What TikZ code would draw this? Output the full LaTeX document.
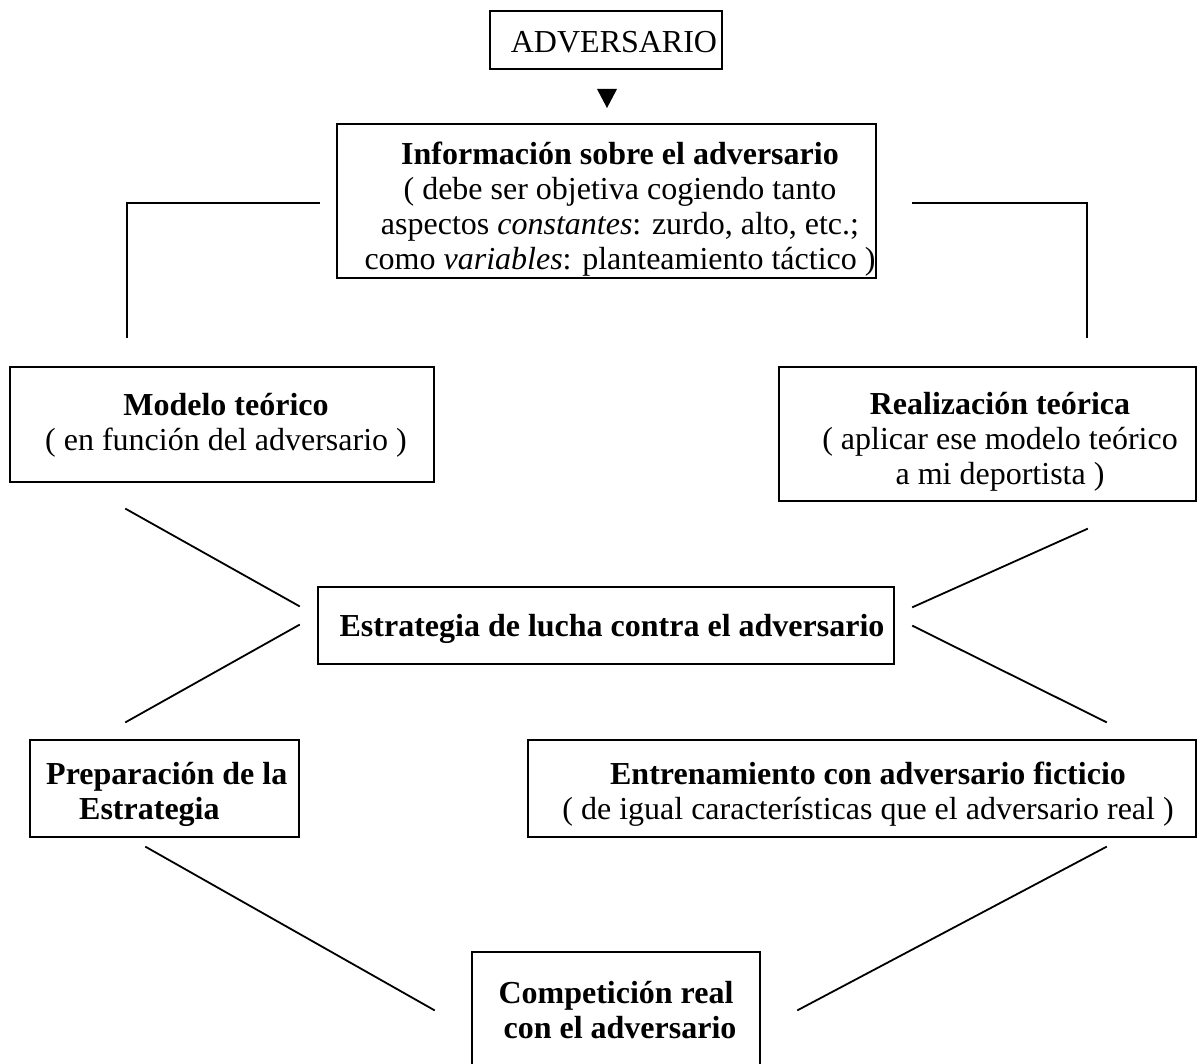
\documentclass[tikz,border=0pt]{standalone}
\usepackage{fontspec}
\setmainfont{Liberation Serif}
\begin{document}
\begin{tikzpicture}[x=1pt,y=-1pt,
  box/.style={draw, line width=1.8pt, inner sep=0pt},
  txt/.style={anchor=base, align=center, inner sep=0pt, font=\fontsize{32}{35}\selectfont},
  conn/.style={line width=1.8pt, line cap=rect}]
\clip (0,0) rectangle (1198,1064);
\fill[white] (0,0) rectangle (1198,1064);

% boxes
\node[box, minimum width=232pt, minimum height=58pt]  (adv)    at (606,40) {};
\node[box, minimum width=539pt, minimum height=154pt] (info)   at (606.5,201) {};
\node[box, minimum width=424pt, minimum height=115pt] (modelo) at (222,424.5) {};
\node[box, minimum width=417pt, minimum height=134pt] (real)   at (987.5,434) {};
\node[box, minimum width=576pt, minimum height=77pt]  (estr)   at (606,625.5) {};
\node[box, minimum width=269pt, minimum height=97pt]  (prep)   at (164.5,788.5) {};
\node[box, minimum width=668pt, minimum height=97pt]  (entr)   at (862,788.5) {};
\node[box, minimum width=288pt, minimum height=128pt] (comp)   at (616,1016) {};

% texts (base = baseline of the last line)
\node[txt] (advT) at (614,53) {ADVERSARIO};
\node[txt] (infoT) at (620,270) {\textbf{Información sobre el adversario}\\( debe ser objetiva cogiendo tanto\\aspectos \textit{constantes}: zurdo, alto, etc.;\\como \textit{variables}: planteamiento táctico )};
\node[txt] (modeloT) at (226,450) {\textbf{Modelo teórico}\\( en función del adversario )};
\node[txt] (realT) at (1000,484) {\textbf{Realización teórica}\\( aplicar ese modelo teórico\\a mi deportista )};
\node[txt] (estrT) at (612,636) {\textbf{Estrategia de lucha contra el adversario}};
\node[txt, anchor=base west, align=left] (prepT) at (46,819) {\textbf{Preparación de la}\\\hspace*{33pt}\textbf{Estrategia}};
\node[txt] (entrT) at (868,819) {\textbf{Entrenamiento con adversario ficticio}\\( de igual características que el adversario real )};
\node[txt] (compT) at (616,1038) {\textbf{Competición real}\\\textbf{\ con el adversario}};

% arrow head
\fill (597,89) -- (617,89) -- (607,108) -- cycle;

% connector coordinates
\coordinate (l1) at (319,203);
\coordinate (l2) at (127,203);
\coordinate (l3) at (127,337);
\coordinate (r1) at (913,203);
\coordinate (r2) at (1087,203);
\coordinate (r3) at (1087,337);
\coordinate (a1) at (126,509);
\coordinate (a2) at (299,606);
\coordinate (b1) at (299,625);
\coordinate (b2) at (126,722);
\coordinate (c1) at (1087,529);
\coordinate (c2) at (913,607);
\coordinate (d1) at (913,626);
\coordinate (d2) at (1106,722);
\coordinate (e1) at (146,847);
\coordinate (e2) at (434,1010);
\coordinate (f1) at (1106,847);
\coordinate (f2) at (798,1010);

\draw[conn] (l1) -- (l2) -- (l3);
\draw[conn] (r1) -- (r2) -- (r3);
\draw[conn] (a1) -- (a2);
\draw[conn] (b1) -- (b2);
\draw[conn] (c1) -- (c2);
\draw[conn] (d1) -- (d2);
\draw[conn] (e1) -- (e2);
\draw[conn] (f1) -- (f2);
\end{tikzpicture}
\end{document}
